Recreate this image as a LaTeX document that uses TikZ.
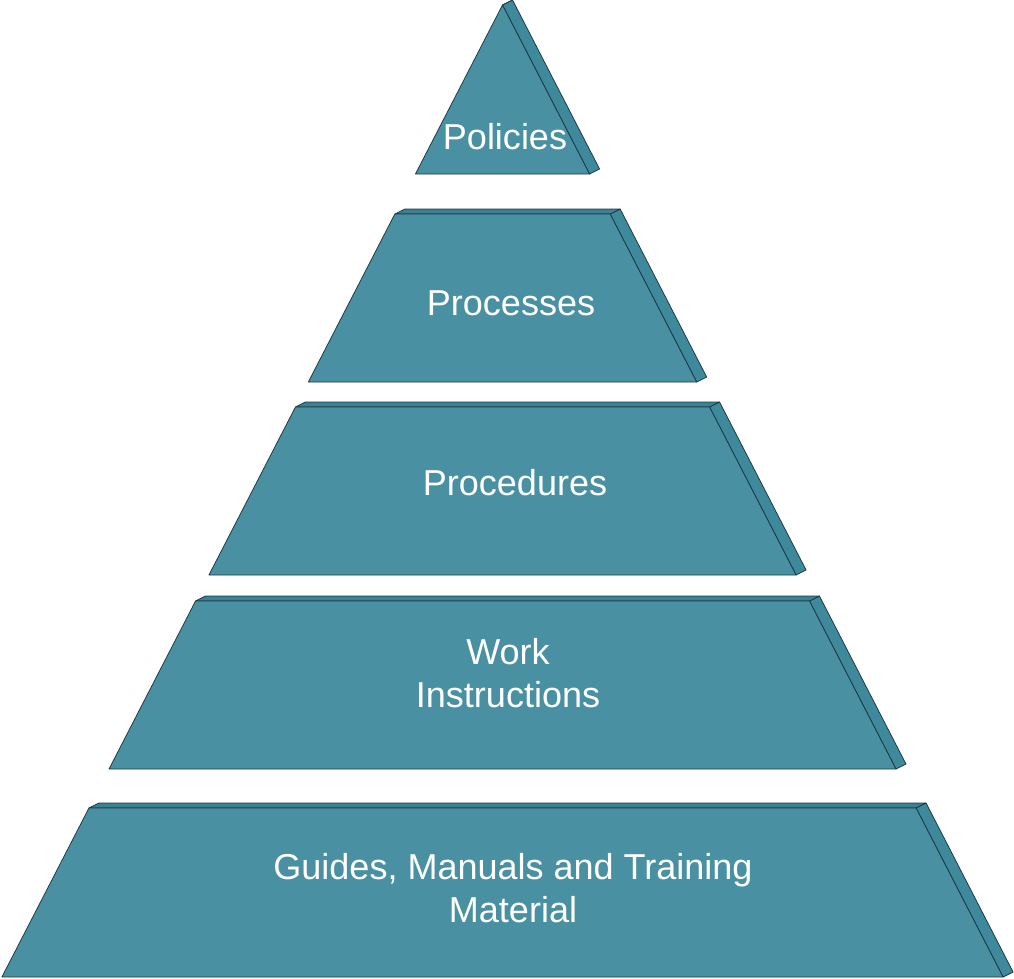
\documentclass[tikz,border=0pt]{standalone}
\usepackage{fontspec}
\setmainfont{Liberation Sans}
\usepackage{xcolor}
\usepackage{tikz}
\usetikzlibrary{calc}
\definecolor{ink}{HTML}{1C3A44}
\definecolor{tFront}{HTML}{4A90A3}
\definecolor{tSide}{HTML}{3F899D}
\definecolor{tTop}{HTML}{3B8194}
\tikzset{
  front/.style={fill=tFront, draw=ink, line width=0.45pt, line join=round},
  side/.style={fill=tSide, draw=ink, line width=0.45pt, line join=round},
  rim/.style={fill=tTop, draw=ink, line width=0.45pt, line join=round},
  lbl/.style={text=white, align=center, inner sep=0pt, font=\fontsize{20.5}{24.5}\selectfont},
}
% one slab of the pyramid, given its top and bottom edge (pixels, y down)
\newcommand{\slab}[2]{%
  \pgfmathsetmacro{\xa}{502.5-0.515*(#1-5)}%
  \pgfmathsetmacro{\xb}{502.5+0.515*(#1-5)}%
  \pgfmathsetmacro{\xc}{502.5+0.515*(#2-5)}%
  \pgfmathsetmacro{\xd}{502.5-0.515*(#2-5)}%
  \draw[side] (\xb,#1) -- (\xc,#2) -- ++(10,-5) -- ($(\xb,#1)+(10,-5)$) -- cycle;
  \draw[rim] (\xa,#1) -- (\xb,#1) -- ++(10,-5) -- ($(\xa,#1)+(10,-5)$) -- cycle;
  \draw[front] (\xa,#1) -- (\xb,#1) -- (\xc,#2) -- (\xd,#2) -- cycle;
}

\begin{document}
\begin{tikzpicture}[x=0.02cm, y=-0.02cm]
\useasboundingbox (0,0) rectangle (1014,978);
\slab{5}{174}
\slab{214}{382}
\slab{407}{575}
\slab{601}{769}
\slab{808}{977}
\node[lbl] (policies) at (505,137) {Policies};
\node[lbl] (processes) at (511,303) {Processes};
\node[lbl] (procedures) at (515,483) {Procedures};
\node[lbl] (work) at (508,673) {Work\\Instructions};
\node[lbl] (guides) at (513,888) {Guides, Manuals and Training\\Material};
\end{tikzpicture}
\end{document}
